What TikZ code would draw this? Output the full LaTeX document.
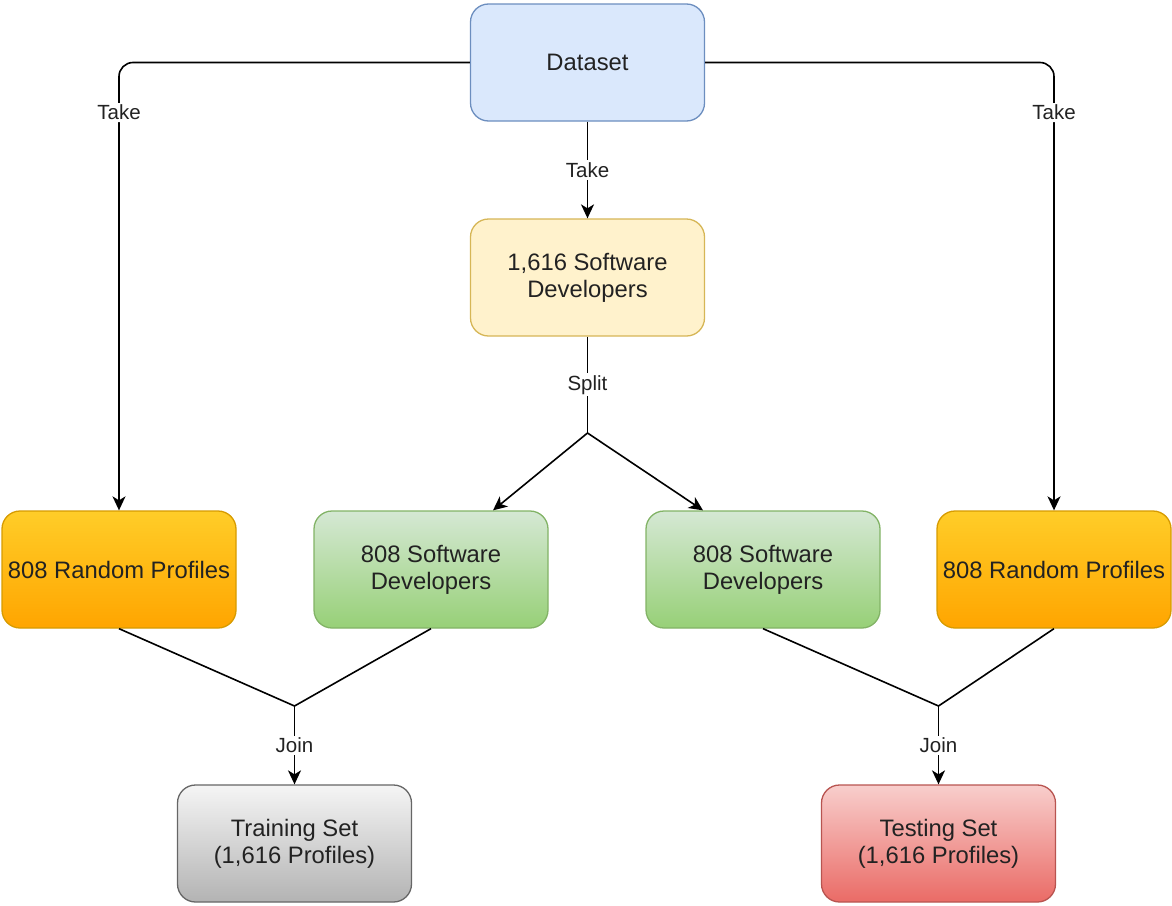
\documentclass[tikz,border=0pt]{standalone}
\usepackage{fontspec}
\setmainfont{Liberation Sans}
\usetikzlibrary{arrows.meta,calc}

\definecolor{blueFill}{HTML}{DAE8FC}
\definecolor{blueLine}{HTML}{6C8EBF}
\definecolor{yellowFill}{HTML}{FFF2CC}
\definecolor{yellowLine}{HTML}{D6B656}
\definecolor{orangeTop}{HTML}{FFCD28}
\definecolor{orangeBot}{HTML}{FFA500}
\definecolor{orangeLine}{HTML}{D79B00}
\definecolor{greenTop}{HTML}{D5E8D4}
\definecolor{greenBot}{HTML}{97D077}
\definecolor{greenLine}{HTML}{82B366}
\definecolor{grayTop}{HTML}{F5F5F5}
\definecolor{grayBot}{HTML}{B3B3B3}
\definecolor{grayLine}{HTML}{666666}
\definecolor{redTop}{HTML}{F8CECC}
\definecolor{redBot}{HTML}{EA6B66}
\definecolor{redLine}{HTML}{B85450}
\definecolor{ink}{HTML}{222222}

\begin{document}
\begin{tikzpicture}[x=1pt,y=-1pt,
  box/.style={rounded corners=18pt, line width=1.3pt, minimum width=234pt,
    minimum height=117pt, align=center, inner sep=0pt, text=ink,
    font=\fontsize{23.8}{27}\selectfont},
  lbl/.style={fill=white, inner sep=2pt, text=ink,
    font=\fontsize{20.5}{22}\selectfont},
  seg/.style={line width=1.6pt, draw=black},
  conn/.style={seg, -{Stealth[length=14pt,width=13pt,inset=4pt]}},
  bluebox/.style={box, fill=blueFill, draw=blueLine},
  yellowbox/.style={box, fill=yellowFill, draw=yellowLine},
  orangebox/.style={box, top color=orangeTop, bottom color=orangeBot, draw=orangeLine},
  greenbox/.style={box, top color=greenTop, bottom color=greenBot, draw=greenLine},
  graybox/.style={box, top color=grayTop, bottom color=grayBot, draw=grayLine},
  redbox/.style={box, top color=redTop, bottom color=redBot, draw=redLine},
]
\useasboundingbox (0,0) rectangle (1172,905);

% boxes
\node[bluebox]   (ds)  at (587.5,62.5)  {Dataset};
\node[yellowbox] (dev) at (587.5,277.5) {1,616 Software\\Developers};
\node[orangebox] (rpl) at (119,569.5)   {808 Random Profiles};
\node[greenbox]  (sdl) at (431,569.5)   {808 Software\\Developers};
\node[greenbox]  (sdr) at (763,569.5)   {808 Software\\Developers};
\node[orangebox] (rpr) at (1054,569.5)  {808 Random Profiles};
\node[graybox]   (tr)  at (294.5,843.5) {Training Set\\(1,616 Profiles)};
\node[redbox]    (te)  at (938.5,843.5) {Testing Set\\(1,616 Profiles)};

% branch points
\coordinate (sp) at (587.5,433);
\coordinate (jl) at (294.5,706);
\coordinate (jr) at (938.5,706);

% take
\draw[conn, rounded corners=14pt] (ds.west) -| node[lbl, pos=0.556] {Take} (rpl.north);
\draw[conn, rounded corners=14pt] (ds.east) -| node[lbl, pos=0.556] {Take} (rpr.north);
\draw[conn] (ds.south) -- node[lbl] {Take} (dev.north);

% split
\draw[seg] (dev.south) -- node[lbl] {Split} (sp);
\draw[conn] (sp) -- ([xshift=62pt]sdl.north);
\draw[conn] (sp) -- ([xshift=-60pt]sdr.north);

% join
\draw[seg] (rpl.south) -- (jl) -- (sdl.south);
\draw[conn] (jl) -- node[lbl] {Join} (tr.north);
\draw[seg] (sdr.south) -- (jr) -- (rpr.south);
\draw[conn] (jr) -- node[lbl] {Join} (te.north);
\end{tikzpicture}
\end{document}
